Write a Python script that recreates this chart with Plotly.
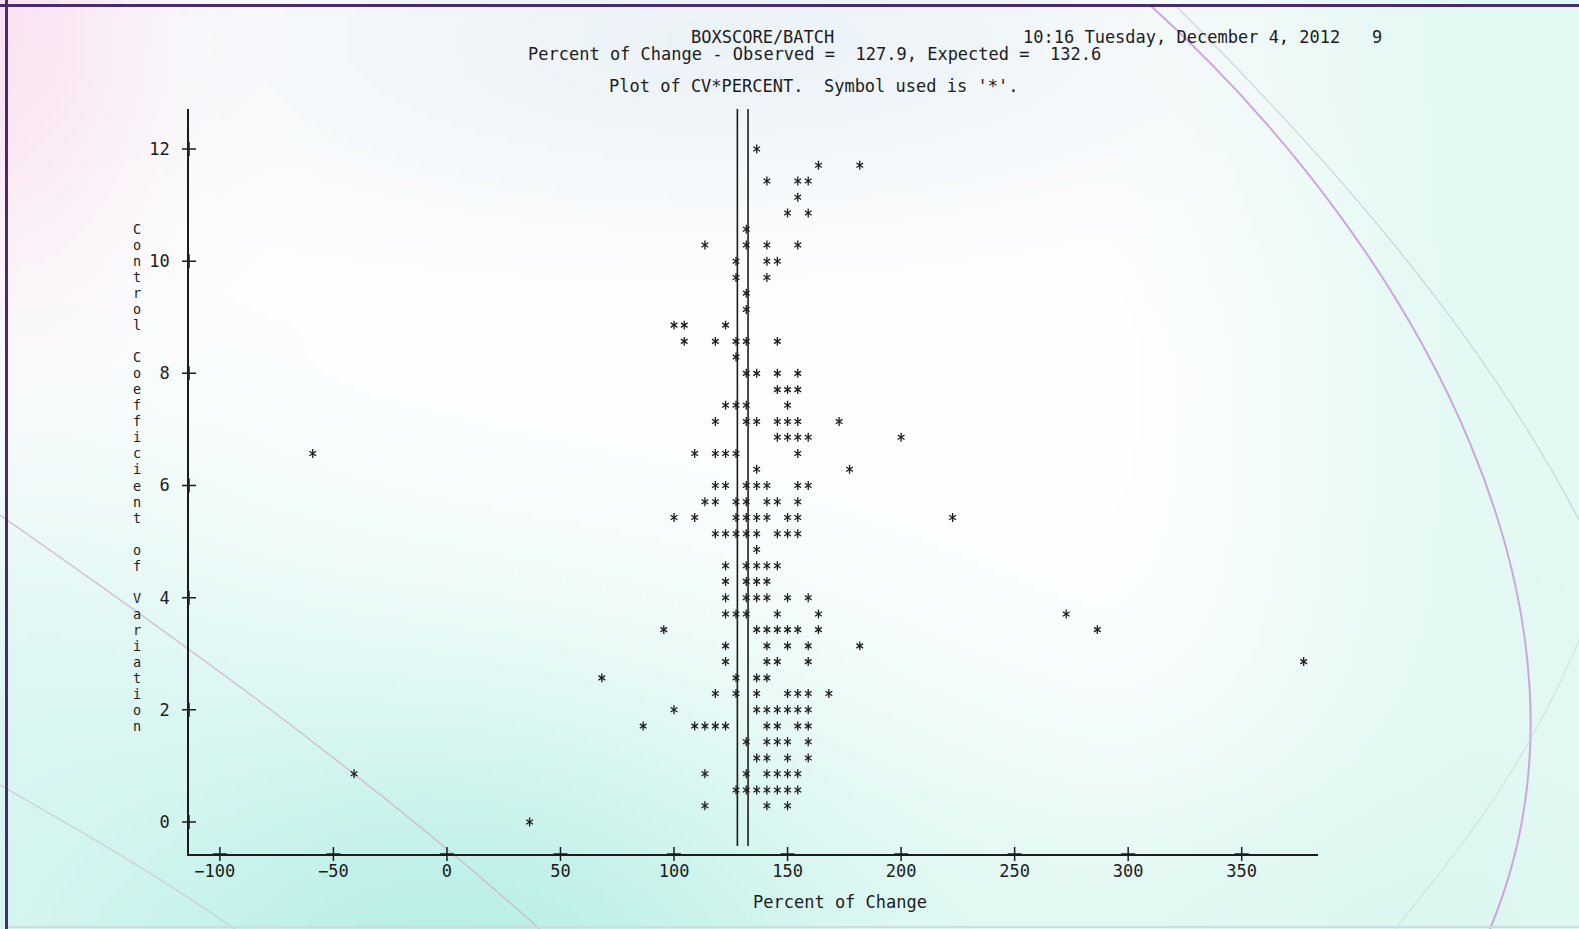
import base64, struct, zlib
import numpy as np
import plotly.graph_objects as go

# ---------------- data ----------------
percent = [
    36.4,
    113.6, 140.9, 150.0,
    127.3, 131.8, 136.4, 140.9, 145.5, 150.0, 154.5,
    -40.9, 113.6, 131.8, 140.9, 145.5, 150.0, 154.5,
    136.4, 140.9, 150.0, 159.1,
    131.8, 140.9, 145.5, 150.0, 159.1,
    86.4, 109.1, 113.6, 118.2, 122.7, 140.9, 145.5, 154.5, 159.1,
    100.0, 136.4, 140.9, 145.5, 150.0, 154.5, 159.1,
    118.2, 127.3, 136.4, 150.0, 154.5, 159.1, 168.2,
    68.2, 127.3, 136.4, 140.9,
    122.7, 140.9, 145.5, 159.1, 377.3,
    122.7, 140.9, 150.0, 159.1, 181.8,
    95.5, 136.4, 140.9, 145.5, 150.0, 154.5, 163.6, 286.4,
    122.7, 127.3, 131.8, 145.5, 163.6, 272.7,
    122.7, 131.8, 136.4, 140.9, 150.0, 159.1,
    122.7, 131.8, 136.4, 140.9,
    122.7, 131.8, 136.4, 140.9, 145.5,
    136.4,
    118.2, 122.7, 127.3, 131.8, 136.4, 145.5, 150.0, 154.5,
    100.0, 109.1, 127.3, 131.8, 136.4, 140.9, 150.0, 154.5, 222.7,
    113.6, 118.2, 127.3, 131.8, 140.9, 145.5, 154.5,
    118.2, 122.7, 131.8, 136.4, 140.9, 154.5, 159.1,
    136.4, 177.3,
    -59.1, 109.1, 118.2, 122.7, 127.3, 154.5,
    145.5, 150.0, 154.5, 159.1, 200.0,
    118.2, 131.8, 136.4, 145.5, 150.0, 154.5, 172.7,
    122.7, 127.3, 131.8, 150.0,
    145.5, 150.0, 154.5,
    131.8, 136.4, 145.5, 154.5,
    127.3,
    104.5, 118.2, 127.3, 131.8, 145.5,
    100.0, 104.5, 122.7,
    131.8,
    131.8,
    127.3, 140.9,
    127.3, 140.9, 145.5,
    113.6, 131.8, 140.9, 154.5,
    131.8,
    150.0, 159.1,
    154.5,
    140.9, 154.5, 159.1,
    163.6, 181.8,
    136.4,
]

cv = (
    [0.00] * 1 + [0.29] * 3 + [0.57] * 7 + [0.86] * 7 + [1.14] * 4 +
    [1.43] * 5 + [1.71] * 9 + [2.00] * 7 + [2.29] * 7 + [2.57] * 4 +
    [2.86] * 5 + [3.14] * 5 + [3.43] * 8 + [3.71] * 6 + [4.00] * 6 +
    [4.29] * 4 + [4.57] * 5 + [4.86] * 1 + [5.14] * 8 + [5.43] * 9 +
    [5.71] * 7 + [6.00] * 7 + [6.29] * 2 + [6.57] * 6 + [6.86] * 5 +
    [7.14] * 7 + [7.43] * 4 + [7.71] * 3 + [8.00] * 4 + [8.29] * 1 +
    [8.57] * 5 + [8.86] * 3 + [9.14] * 1 + [9.43] * 1 + [9.71] * 2 +
    [10.00] * 3 + [10.29] * 4 + [10.57] * 1 + [10.86] * 2 + [11.14] * 1 +
    [11.43] * 3 + [11.71] * 2 + [12.00] * 1
)
assert len(cv) == len(percent)

observed = 127.9
expected = 132.6

x_ticks = [-100, -50, 0, 50, 100, 150, 200, 250, 300, 350]
x_ticktext = ["\u2212100\u00a0", "\u221250", "0", "50", "100", "150", "200", "250", "300", "350"]
y_ticks = [0, 2, 4, 6, 8, 10, 12]
y_ticktext = ["0", "2", "4", "6", "8", "10", "12"]

title_left = "BOXSCORE/BATCH"
title_date = "10:16 Tuesday, December 4, 2012"
title_page = "9"
title_line2 = "Percent of Change - Observed =  127.9, Expected =  132.6"
title_line3 = "Plot of CV*PERCENT.  Symbol used is '*'."
x_title = "Percent of Change"
y_title = "Control Coefficient of Variation"

# ---------------- layout geometry ----------------
W, H = 1579, 929
ML, MR, MT, MB = 189, 261, 109, 75
PW, PH = W - ML - MR, H - MT - MB
X_RANGE = [-113.6, 383.6]
Y_RANGE = [-0.571, 12.714]
REF_LINE_BOTTOM = -0.43
FONT = "DejaVu Sans Mono"
INK = "#1c1c1c"


def px(xp):
    return (xp - ML) / PW


def py(yp):
    return (H - MB - yp) / PH


# ---------------- background image ----------------
def make_background(w=198, h=117):
    xs = (np.arange(w) + 0.5) * (W / w)
    ys = (np.arange(h) + 0.5) * (H / h)
    X, Y = np.meshgrid(xs, ys)
    img = np.ones((h, w, 3))

    def blend(im, weight, color):
        c = np.array(color) / 255.0
        wgt = np.clip(weight, 0, 1)[..., None]
        return im * (1 - wgt) + c * wgt

    img = blend(img, 0.55 * np.exp(-((X - 720) / 520) ** 2 - ((Y - 40) / 170) ** 2), (222, 234, 242))
    img = blend(img, 0.95 * np.exp(-((X - 420) / 520) ** 2 - ((Y - 1000) / 330) ** 2), (178, 238, 228))
    img = blend(img, 0.6 * np.exp(-((X - 0) / 300) ** 2 - ((Y - 760) / 300) ** 2), (208, 244, 240))
    t = np.clip((X - 1080) / 420, 0, 1)
    img = blend(img, 0.85 * t * t * (3 - 2 * t), (224, 248, 242))
    img = blend(img, 0.5 * np.exp(-((X - 1250) / 350) ** 2 - ((Y - 960) / 200) ** 2), (205, 243, 232))
    img = blend(img, 0.9 * np.exp(-((X - 0) / 150) ** 2 - ((Y - 20) / 260) ** 2), (250, 226, 242))
    arr = (np.clip(img, 0, 1) * 255).astype(np.uint8)

    raw = b"".join(b"\x00" + arr[r].tobytes() for r in range(h))

    def chunk(tag, data):
        return (struct.pack(">I", len(data)) + tag + data +
                struct.pack(">I", zlib.crc32(tag + data) & 0xFFFFFFFF))

    png = (b"\x89PNG\r\n\x1a\n" +
           chunk(b"IHDR", struct.pack(">IIBBBBB", w, h, 8, 2, 0, 0, 0)) +
           chunk(b"IDAT", zlib.compress(raw, 9)) + chunk(b"IEND", b""))
    return "data:image/png;base64," + base64.b64encode(png).decode()


fig = go.Figure()

# reference lines (observed / expected)
for v in (observed, expected):
    fig.add_trace(go.Scatter(x=[v, v], y=[REF_LINE_BOTTOM, Y_RANGE[1]], mode="lines",
                             line=dict(color=INK, width=1.6), hoverinfo="skip",
                             showlegend=False, cliponaxis=False))

# plotted points: a six-armed '*' built from two three-armed marker symbols
for sym in ("y-up", "y-down"):
    fig.add_trace(go.Scatter(x=percent, y=cv, mode="markers",
                             marker=dict(symbol=sym, size=5.6, color=INK,
                                         line=dict(color=INK, width=1.3)),
                             hovertemplate="%{x}, %{y}<extra></extra>", showlegend=False,
                             cliponaxis=False))

# '+' tick marks on both axes
for xs_, ys_ in (([X_RANGE[0]] * len(y_ticks), y_ticks), (x_ticks, [Y_RANGE[0]] * len(x_ticks))):
    fig.add_trace(go.Scatter(x=xs_, y=ys_, mode="markers",
                             marker=dict(symbol="cross-thin", size=10, color=INK,
                                         line=dict(color=INK, width=1.5)),
                             hoverinfo="skip", showlegend=False, cliponaxis=False))

annotations = []


def add_text(text, xp, yp, xanchor="center"):
    annotations.append(dict(text=text, x=px(xp), y=py(yp), xref="paper", yref="paper",
                            xanchor=xanchor, yanchor="middle", showarrow=False,
                            font=dict(family=FONT, size=17, color=INK)))


add_text(title_left, 762, 37)
add_text(title_date, 1021, 37, "left")
add_text(title_page, 1377, 37)
add_text(title_line2, 814, 54)
add_text(title_line3, 813, 86)
add_text(x_title, 840, 902)

# vertical, one-letter-per-row axis label
top_row = 37
for i, ch in enumerate(y_title):
    if ch == " ":
        continue
    annotations.append(dict(text=ch, x=px(137), y=(top_row - i) * 12 / 42, xref="paper",
                            yref="y", xanchor="center", yanchor="middle", showarrow=False,
                            borderpad=0,
                            font=dict(family=FONT, size=13.5, color=INK)))

shapes = [
    dict(type="line", xref="paper", yref="paper", x0=px(6.5), x1=px(6.5), y0=py(0), y1=py(929),
         line=dict(color="#4b2a6e", width=3)),
    dict(type="line", xref="paper", yref="paper", x0=px(0), x1=px(1579), y0=py(5.5), y1=py(5.5),
         line=dict(color="#4b2a6e", width=3)),
    dict(type="line", xref="paper", yref="paper", x0=px(8), x1=px(1579), y0=py(927), y1=py(927),
         line=dict(color="#c9dedd", width=2)),
]


def path(points):
    d = "M {:.4f},{:.4f}".format(px(points[0][0]), py(points[0][1]))
    for (a, b), (c, e), (f, g) in zip(points[1::3], points[2::3], points[3::3]):
        d += " C {:.4f},{:.4f} {:.4f},{:.4f} {:.4f},{:.4f}".format(px(a), py(b), px(c), py(e), px(f), py(g))
    return d


decor = [
    ([(0, 515), (150, 620), (350, 760), (540, 929)], "rgba(205,180,205,0.8)", 1.5),
    ([(0, 785), (70, 825), (150, 870), (235, 929)], "rgba(200,200,210,0.7)", 1.5),
    ([(1150, 5), (1420, 250), (1620, 620), (1490, 929)], "rgba(200,150,215,0.85)", 2),
    ([(1175, 5), (1330, 160), (1480, 330), (1579, 520)], "rgba(180,190,210,0.6)", 1.2),
    ([(1579, 640), (1520, 780), (1450, 860), (1395, 929)], "rgba(200,215,215,0.6)", 1.2),
]
for pts, col, wdt in decor:
    shapes.append(dict(type="path", xref="paper", yref="paper", path=path(pts),
                       line=dict(color=col, width=wdt), layer="below"))

fig.update_layout(
    width=W, height=H, margin=dict(l=ML, r=MR, t=MT, b=MB, autoexpand=False),
    paper_bgcolor="white", plot_bgcolor="rgba(0,0,0,0)",
    showlegend=False, annotations=annotations, shapes=shapes,
    images=[dict(source=make_background(), xref="paper", yref="paper",
                 x=px(0), y=py(0), sizex=W / PW, sizey=H / PH,
                 xanchor="left", yanchor="top", sizing="stretch", layer="below")],
    xaxis=dict(range=X_RANGE, showgrid=False, zeroline=False, showline=True,
               linecolor=INK, linewidth=1.5, ticks="", tickvals=x_ticks,
               ticktext=x_ticktext, ticklabelstandoff=1,
               tickfont=dict(family=FONT, size=17, color=INK)),
    yaxis=dict(range=Y_RANGE, showgrid=False, zeroline=False, showline=True,
               linecolor=INK, linewidth=1.8, ticks="", tickvals=y_ticks,
               ticktext=y_ticktext, ticklabelstandoff=14,
               tickfont=dict(family=FONT, size=17, color=INK)),
)

fig.write_html("out.html", config={"displayModeBar": False},
               post_script="document.body.style.margin='0';document.body.style.overflow='hidden';")
